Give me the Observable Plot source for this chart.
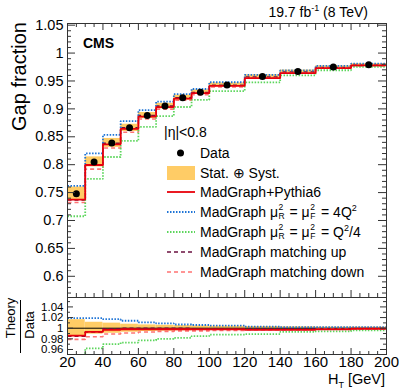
<!DOCTYPE html>
<html><head><meta charset="utf-8">
<script src="https://cdn.jsdelivr.net/npm/d3@7"></script>
<script src="https://cdn.jsdelivr.net/npm/@observablehq/plot@0.6"></script>
<style>
body{margin:0;background:#fff;}
#wrap{position:relative;width:399px;height:390px;font-family:"Liberation Sans",Arial,Helvetica,sans-serif;color:#000;overflow:hidden}
#wrap svg{position:absolute;left:0;}
.abs{position:absolute;white-space:nowrap;line-height:14px;font-size:14px}
.ss{position:relative;display:inline-block;width:6px;height:10px;font-size:8.5px;line-height:8.5px;margin:0 1px 0 0.5px}
.ss .sp{position:absolute;left:0;top:-4px}
.ss .sb{position:absolute;left:0;top:4.5px}
sup{font-size:9px;vertical-align:6px;line-height:0}
sub{font-size:9px;vertical-align:-4px;line-height:0}
</style></head><body><div id="wrap"></div>
<script>
// ---- data ----
const binLo = [20,30,40,50,60,70,80,90,100,120,140,160,180];
const binHi = [30,40,50,60,70,80,90,100,120,140,160,180,200];
const dataVal = [0.748,0.805,0.839,0.866,0.888,0.905,0.920,0.930,0.943,0.958,0.967,0.975,0.979];
const dataErr = [0.012,0.009,0.008,0.0065,0.0055,0.005,0.0045,0.004,0.0035,0.003,0.0025,0.002,0.002];
const mgPythia6 = [0.7375,0.7994,0.8365,0.8643,0.8862,0.9032,0.9182,0.9281,0.9411,0.9551,0.9641,0.9730,0.9780];
const mgScaleUp = [0.7622,0.8203,0.8533,0.8781,0.8978,0.9131,0.9264,0.9356,0.9477,0.9609,0.9689,0.9770,0.9810];
const mgScaleDown = [0.7076,0.7744,0.8138,0.8426,0.8676,0.8869,0.9034,0.9161,0.9317,0.9475,0.9602,0.9692,0.9751];
const mgMatchUp = [0.7368,0.7994,0.8382,0.8660,0.8880,0.9050,0.9200,0.9291,0.9421,0.9570,0.9660,0.9740,0.9780];
const mgMatchDown = [0.7323,0.7921,0.8298,0.8582,0.8818,0.8996,0.9154,0.9254,0.9392,0.9551,0.9641,0.9731,0.9770];
const xMajor = [20,40,60,80,100,120,140,160,180,200];
const xMinor = d3.range(20,201,5).filter(v => v % 20 !== 0);
const yMajor = [0.6,0.65,0.7,0.75,0.8,0.85,0.9,0.95,1,1.05];
const yMinor = d3.range(57,106).map(v => v/100).filter(v => Math.round(v*100) % 5 !== 0);
const rMajor = [0.96,0.98,1,1.02,1.04];
const rMinor = [0.97,0.99,1.01,1.03,1.05];

const series = [
  {name:"mgMatchUp", vals:mgMatchUp, stroke:"#6b1040", dash:"4,3", w:1.6},
  {name:"mgMatchDown", vals:mgMatchDown, stroke:"#ff7373", dash:"4,3", w:1.6},
  {name:"mgScaleDown", vals:mgScaleDown, stroke:"#5cd65c", dash:"1.5,1.5", w:1.8},
  {name:"mgScaleUp", vals:mgScaleUp, stroke:"#1f74d6", dash:"1.5,1.5", w:1.8},
  {name:"mgPythia6", vals:mgPythia6, stroke:"#e8000b", dash:null, w:1.8}
];

const bins = binLo.map((lo,i)=>({lo, hi:binHi[i], c:(lo+binHi[i])/2, v:dataVal[i], e:dataErr[i]}));
function steps(vals, ratio){
  return binLo.flatMap((lo,i)=>{
    const y = ratio ? vals[i]/dataVal[i] : vals[i];
    return [{x:lo,y},{x:binHi[i],y}];
  });
}
const W = 399, font = '"Liberation Sans",Arial,Helvetica,sans-serif';
const frameCol = "#333";

function tickMarks(innerW, innerH, xMaj, xMin, yMaj, yMin, lenMaj, lenMin, top){
  const m = [];
  const tx = (arr,len)=>{
    m.push(Plot.tickX(arr,{x:d=>d, insetTop: innerH-len, stroke:frameCol}));
    if (top) m.push(Plot.tickX(arr,{x:d=>d, insetBottom: innerH-len, stroke:frameCol}));
  };
  const ty = (arr,len)=>{
    m.push(Plot.tickY(arr,{y:d=>d, insetRight: innerW-len, stroke:frameCol}));
    m.push(Plot.tickY(arr,{y:d=>d, insetLeft: innerW-len, stroke:frameCol}));
  };
  tx(xMaj,lenMaj[0]); tx(xMin,lenMin[0]); ty(yMaj,lenMaj[1]); ty(yMin,lenMin[1]);
  return m;
}
function seriesLines(ratio){
  return series.map(s=>Plot.line(steps(s.vals,ratio),{x:"x",y:"y",stroke:s.stroke,strokeWidth:s.w,
    strokeDasharray:s.dash ?? undefined,strokeLinecap:"butt",strokeLinejoin:"miter",clip:true}));
}

// ---- main panel ----
const mL=67, mR=13;
const innerW = W-mL-mR;
const mainH=298, mainT=23, mainB=1;
const mainInnerH = mainH-mainT-mainB;
const main = Plot.plot({
  width:W, height:mainH, marginLeft:mL, marginRight:mR, marginTop:mainT, marginBottom:mainB,
  style:{background:"transparent", fontFamily:font, fontSize:"14px", color:"#000"},
  x:{domain:[20,200]},
  y:{domain:[0.562,1.053]},
  marks:[
    Plot.rect(bins,{x1:"lo",x2:"hi",y1:d=>d.v-d.e,y2:d=>d.v+d.e,fill:"#ffcc66"}),
    ...seriesLines(false),
    Plot.dot(bins,{x:"c",y:"v",r:3.5,fill:"#000"}),
    Plot.axisY(yMajor,{anchor:"left",tickSize:0,tickPadding:4,fontSize:14.5,tickFormat:d=>String(d),label:null}),
    Plot.axisX({anchor:"bottom",ticks:[],label:null}),
    ...tickMarks(innerW, mainInnerH, xMajor, xMinor, yMajor, yMinor, [7,8], [4,4], true),
    Plot.frame({stroke:frameCol})
  ]
});
main.style.top="0px";
document.getElementById("wrap").appendChild(main);

// ---- ratio panel ----
const rTop=290, rH=100, rT=7, rB=36;
const rInnerH = rH-rT-rB;
const ratio = Plot.plot({
  width:W, height:rH, marginLeft:mL, marginRight:mR, marginTop:rT, marginBottom:rB,
  style:{background:"transparent", fontFamily:font, fontSize:"14px", color:"#000"},
  x:{domain:[20,200]},
  y:{domain:[0.9506,1.0577]},
  marks:[
    Plot.rect(bins,{x1:"lo",x2:"hi",y1:d=>1-d.e/d.v,y2:d=>1+d.e/d.v,fill:"#ffcc66",clip:true}),
    Plot.ruleY([1],{stroke:"#000",strokeWidth:1}),
    ...seriesLines(true),
    Plot.axisY(rMajor,{anchor:"left",tickSize:0,tickPadding:4,fontSize:11.5,tickFormat:d=>String(d),label:null}),
    Plot.axisX(xMajor,{anchor:"bottom",tickSize:0,tickPadding:2,fontSize:15,tickFormat:d=>String(d),label:null}),
    ...tickMarks(innerW, rInnerH, xMajor, xMinor, rMajor, rMinor, [6,6], [3,3], false),
    Plot.frame({stroke:frameCol})
  ]
});
ratio.style.top=rTop+"px";
document.getElementById("wrap").appendChild(ratio);

// ---- text overlay ----
const wrap = document.getElementById("wrap");
function addDiv(html, css){ const d=document.createElement("div"); d.className="abs"; d.innerHTML=html; Object.assign(d.style,css); wrap.appendChild(d); return d;}
addDiv('19.7 fb<sup>-1</sup> (8 TeV)',{right:"31px",top:"5px"});
addDiv('<b>CMS</b>',{left:"83px",top:"36px"});
addDiv('H<sub>T</sub> [GeV]',{right:"14px",top:"372px",fontSize:"14.5px"});

const ov = d3.select(wrap).append("svg").attr("width",W).attr("height",390).style("top","0px").style("pointer-events","none");
ov.append("text").attr("transform","translate(26,22) rotate(-90)").attr("text-anchor","end")
  .attr("font-family",font).attr("font-size",20).text("Gap fraction");
ov.append("text").attr("transform","translate(15,318) rotate(-90)").attr("text-anchor","middle")
  .attr("font-family",font).attr("font-size",13).text("Theory");
ov.append("text").attr("transform","translate(34,325) rotate(-90)").attr("text-anchor","middle")
  .attr("font-family",font).attr("font-size",13).text("Data");
ov.append("line").attr("x1",20.5).attr("x2",20.5).attr("y1",300).attr("y2",353).attr("stroke","#000").attr("stroke-width",1);

// legend
const lg = ov.append("g");
const lx0=167, lx1=195;
addDiv('|η|&lt;0.8',{left:"164px",top:"125px"});
const mu = s => `μ<span class="ss"><span class="sp">2</span><span class="sb">${s}</span></span>`;
const rows = [
  {y:153, label:"Data", kind:"dot"},
  {y:173, label:"Stat. ⊕ Syst.", kind:"box"},
  {y:192, label:"MadGraph+Pythia6", kind:"line", s:series[4]},
  {y:212, label:`MadGraph ${mu("R")} = ${mu("F")} = 4Q<sup>2</sup>`, kind:"line", s:series[3]},
  {y:232, label:`MadGraph ${mu("R")} = ${mu("F")} = Q<sup>2</sup>/4`, kind:"line", s:series[2]},
  {y:252, label:"MadGraph matching up", kind:"line", s:series[0]},
  {y:272, label:"MadGraph matching down", kind:"line", s:series[1]}
];
rows.forEach(r=>{
  if(r.kind==="dot") lg.append("circle").attr("cx",180.5).attr("cy",r.y).attr("r",3.5).attr("fill","#000");
  else if(r.kind==="box") lg.append("rect").attr("x",lx0).attr("y",r.y-7).attr("width",lx1-lx0).attr("height",14).attr("fill","#ffcc66");
  else lg.append("line").attr("x1",lx0).attr("x2",lx1).attr("y1",r.y).attr("y2",r.y).attr("stroke",r.s.stroke).attr("stroke-width",r.s.w).attr("stroke-dasharray",r.s.dash);
  addDiv(r.label,{left:"200px",top:(r.y-7)+"px"});
});
</script></body></html>
